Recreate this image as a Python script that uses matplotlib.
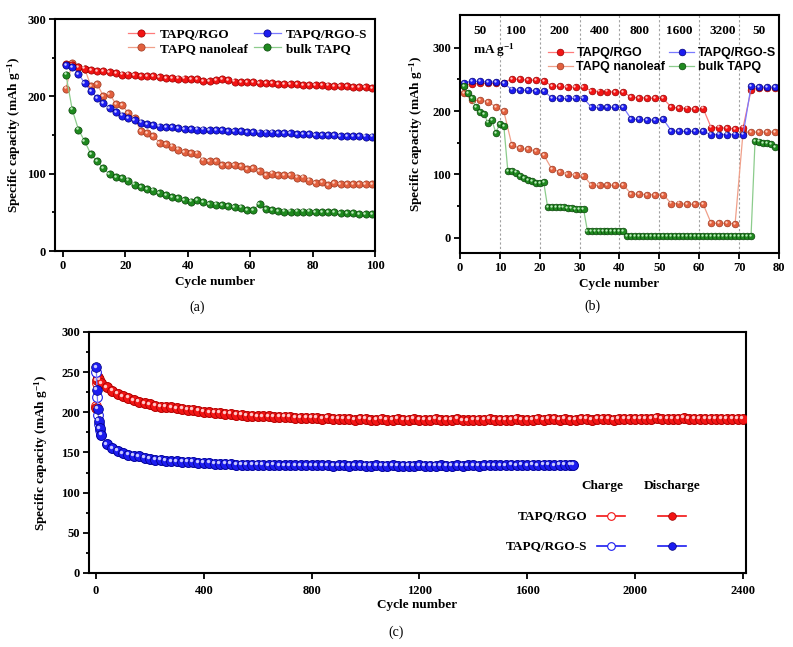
import matplotlib
matplotlib.use("Agg")
import matplotlib.pyplot as plt
from matplotlib.ticker import MultipleLocator, FixedLocator
from matplotlib.transforms import offset_copy

plt.rcParams['font.family'] = 'Liberation Serif'
plt.rcParams['font.weight'] = 'bold'
plt.rcParams['axes.labelweight'] = 'bold'
plt.rcParams['mathtext.default'] = 'regular'

# ---------------- (a) cycling at 50 mA g-1 ----------------
cyc_a = list(range(1, 100, 2))
rgo_a = [242, 240, 238, 236, 234, 233, 233, 231, 230, 228,
         228, 227, 226, 226, 226, 225, 224, 224, 223, 223,
         222, 222, 220, 220, 221, 222, 221, 219, 218, 218,
         218, 217, 217, 217, 216, 216, 216, 216, 215, 215,
         215, 215, 214, 213, 213, 213, 212, 212, 212, 211]
rgos_a = [240, 238, 229, 217, 207, 198, 191, 185, 180, 175,
          172, 169, 166, 164, 163, 161, 160, 160, 159, 158,
          158, 157, 157, 156, 156, 156, 155, 155, 155, 154,
          154, 153, 153, 153, 152, 152, 152, 151, 151, 151,
          150, 150, 150, 150, 149, 149, 149, 149, 148, 148]
leaf_a = [210, 243, 238, 236, 213, 216, 200, 203, 190, 189,
          178, 172, 155, 152, 149, 140, 138, 135, 131, 128,
          127, 126, 117, 116, 116, 111, 111, 111, 110, 106,
          107, 103, 98, 100, 98, 98, 98, 95, 95, 91,
          88, 89, 85, 88, 87, 87, 87, 87, 87, 87]
bulk_a = [228, 183, 157, 142, 125, 116, 107, 99, 96, 94,
          91, 86, 83, 80, 78, 75, 72, 70, 68, 66,
          64, 66, 63, 61, 60, 59, 58, 57, 56, 53,
          53, 61, 54, 53, 52, 51, 51, 51, 51, 51,
          50, 50, 50, 50, 49, 49, 49, 48, 48, 48]

# ---------------- (b) rate test ----------------
cyc_b = list(range(1, 80, 2))
rgo_b = [240, 243, 244, 244, 244, 245,
         251, 250, 249, 249, 248,
         240, 239, 238, 238, 238,
         232, 231, 231, 230, 230,
         222, 221, 221, 220, 220,
         206, 205, 204, 203, 204,
         174, 174, 173, 172, 174,
         233, 237, 237, 237]
rgos_b = [245, 247, 247, 246, 246, 244,
          234, 233, 233, 232, 232,
          221, 220, 220, 220, 220,
          206, 206, 206, 206, 206,
          187, 187, 186, 186, 187,
          169, 168, 168, 168, 168,
          163, 163, 163, 163, 163,
          239, 238, 238, 238]
leaf_b = [229, 217, 217, 215, 207, 200,
          147, 141, 140, 137, 131,
          109, 104, 101, 99, 98,
          83, 83, 83, 83, 83,
          69, 69, 68, 68, 68,
          54, 54, 53, 53, 53,
          23, 23, 23, 22, 167,
          167, 167, 167, 167]
cyc_bulk_b = list(range(1, 80))
bulk_b = ([240, 229, 221, 206, 199, 196, 182, 186, 166, 180, 177,
           106, 105, 103, 98, 94, 91, 89, 87, 86, 88,
           48, 48, 48, 48, 48, 47, 47, 46, 45, 45,
           10, 10, 10, 10, 10, 10, 10, 10, 10, 10]
          + [3] * 32
          + [153, 152, 150, 149, 148, 143])
rate_labels = ['50', '100', '200', '400', '800', '1600', '3200', '50']
rate_pos = [5, 14, 25, 35, 45, 55, 66, 75]
rate_bounds = [10, 20, 30, 40, 50, 60, 70]

# ---------------- (c) long cycling ----------------
cyc_rgo_c = [1, 3, 8, 12] + list(range(20, 2401, 20))
dis_rgo_c = [205, 240, 244, 241,
             236, 231, 227, 223, 220, 218, 215, 213, 211, 210,
             208, 207, 207, 206, 205, 204, 203, 203, 202, 201,
             200, 199, 199, 198, 198, 197, 197, 196, 196, 195,
             195, 195, 194, 194, 194, 194, 193, 193, 193, 193,
             193, 192, 193, 192, 192, 192, 192, 191, 192, 192,
             191, 191, 192, 191, 191, 192, 191, 191, 192, 191,
             191, 191, 192, 191, 191, 191, 192, 190, 190, 191,
             191, 191, 192, 191, 191, 191, 191, 192, 191, 191,
             191, 192, 191, 192, 192, 191, 192, 191, 191, 192,
             192, 191, 192, 192, 192, 191, 192, 192, 192, 192,
             192, 192, 192, 193, 192, 192, 192, 192, 193, 192,
             192, 192, 192, 192, 192, 192, 192, 192, 192, 192]
# charge points sit under the discharge points after the first cycles
chg_rgo_c = [208, 236, 241, 239] + dis_rgo_c[4:]

cyc_rgos_c = [1, 4, 7, 10, 14] + list(range(20, 1761, 20)) + [1770]
dis_rgos_c = [256, 228, 204, 189, 180,
              172, 160, 155, 152, 149, 147, 146, 145, 143, 142,
              141, 141, 140, 139, 139, 138, 138, 138, 137, 137,
              137, 136, 136, 136, 136, 135, 135, 135, 135, 135,
              135, 134, 135, 134, 134, 134, 134, 134, 134, 134,
              134, 134, 134, 133, 134, 134, 133, 134, 134, 133,
              133, 134, 133, 133, 134, 133, 133, 133, 133, 134,
              133, 133, 133, 134, 133, 133, 134, 133, 134, 134,
              133, 134, 134, 134, 134, 134, 135, 134, 135, 134,
              135, 134, 135, 135, 134, 135, 135, 135,
              135]
chg_rgos_c = [250, 219, 197, 186, 178] + dis_rgos_c[5:]

RED = ('#f21414', '#9a0000', '#ff7a7a', '#ffc8c8')
BLUE = ('#1c1cf0', '#00007a', '#7a7aff', '#c8c8ff')
ORANGE = ('#e2603e', '#9c3a22', '#f0a08a', '#ffd0c0')
GREEN = ('#1f8a1f', '#0a440a', '#8ccc8c', '#c0ecc0')


def balls(ax, x, y, col, ms, label=None, z=2):
    face, edge, line, hl = col
    main, = ax.plot(x, y, '-o', color=line, lw=0.9, ms=ms, mfc=face, mec=edge,
                    mew=0.5, label=label, zorder=z)
    tr = offset_copy(ax.transData, fig=ax.figure, x=-ms * 0.17, y=ms * 0.17, units='points')
    ax.plot(x, y, 'o', ms=ms * 0.35, mfc=hl, mec='none', transform=tr, zorder=z)
    return main


def style(ax):
    for s in ax.spines.values():
        s.set_linewidth(1.5)
    ax.tick_params(which='both', direction='out', width=1.3, labelsize=9, top=False, right=False)
    ax.tick_params(which='major', length=4, pad=2.5)
    ax.tick_params(which='minor', length=2.5)


fig = plt.figure(figsize=(7.93, 6.47), dpi=100)

# (a)
ax1 = fig.add_axes([0.0694, 0.612, 0.4035, 0.3586])
h_leaf = balls(ax1, cyc_a, leaf_a, ORANGE, 5.2, 'TAPQ nanoleaf')
h_rgo = balls(ax1, cyc_a, rgo_a, RED, 5.2, 'TAPQ/RGO')
h_rgos = balls(ax1, cyc_a, rgos_a, BLUE, 5.2, 'TAPQ/RGO-S')
h_bulk = balls(ax1, cyc_a, bulk_a, GREEN, 5.2, 'bulk TAPQ')
ax1.set_xlim(-2.5, 100)
ax1.set_ylim(0, 300)
ax1.xaxis.set_major_locator(MultipleLocator(20))
ax1.yaxis.set_major_locator(MultipleLocator(100))
ax1.yaxis.set_minor_locator(MultipleLocator(50))
style(ax1)
ax1.set_xlabel('Cycle number', fontsize=9.5, labelpad=3)
ax1.set_ylabel('Specific capacity (mAh g$^{-1}$)', fontsize=9.5, labelpad=3)
ax1.legend([h_rgo, h_leaf, h_rgos, h_bulk],
           ['TAPQ/RGO', 'TAPQ nanoleaf', 'TAPQ/RGO-S', 'bulk TAPQ'],
           ncol=2, loc='upper right', bbox_to_anchor=(1.005, 1.0), frameon=False, fontsize=9.5,
           handlelength=2.0, handletextpad=0.4, columnspacing=0.5,
           labelspacing=0.15, borderaxespad=0.3)

# (b)
ax2 = fig.add_axes([0.580, 0.609, 0.4023, 0.368])
for b in rate_bounds:
    ax2.axvline(b, color='#a0a0a0', lw=0.8, ls=(0, (2, 2)), zorder=1)
g_leaf = balls(ax2, cyc_b, leaf_b, ORANGE, 4.8, 'TAPQ nanoleaf')
g_rgo = balls(ax2, cyc_b, rgo_b, RED, 4.8, 'TAPQ/RGO')
g_rgos = balls(ax2, cyc_b, rgos_b, BLUE, 4.8, 'TAPQ/RGO-S')
g_bulk = balls(ax2, cyc_bulk_b, bulk_b, GREEN, 4.8, 'bulk TAPQ')
ax2.set_xlim(0, 80)
ax2.set_ylim(-24, 352)
ax2.xaxis.set_major_locator(MultipleLocator(10))
ax2.yaxis.set_major_locator(FixedLocator([0, 100, 200, 300]))
ax2.yaxis.set_minor_locator(FixedLocator([50, 150, 250]))
style(ax2)
ax2.set_xlabel('Cycle number', fontsize=9.5, labelpad=3)
ax2.set_ylabel('Specific capacity (mAh g$^{-1}$)', fontsize=9.5, labelpad=5)
for lab, p in zip(rate_labels, rate_pos):
    ax2.text(p, 326, lab, ha='center', va='center', fontsize=9.5)
ax2.text(3.2, 296, 'mA g$^{-1}$', ha='left', va='center', fontsize=9.5)
ax2.legend([g_rgo, g_leaf, g_rgos, g_bulk],
           ['TAPQ/RGO', 'TAPQ nanoleaf', 'TAPQ/RGO-S', 'bulk TAPQ'],
           ncol=2, loc='upper left', bbox_to_anchor=(0.275, 0.865), frameon=False,
           prop={'family': 'Liberation Sans', 'weight': 'bold', 'size': 9},
           handlelength=2.0, handletextpad=0.3, columnspacing=0.3,
           labelspacing=0.15, borderaxespad=0.0, borderpad=0.0)

# (c)
ax3 = fig.add_axes([0.1122, 0.1144, 0.8285, 0.3725])
ax3.plot(cyc_rgo_c, chg_rgo_c, '-o', color=RED[2], lw=0.8, ms=7, mfc='white', mec=RED[0], mew=0.8, zorder=2)
balls(ax3, cyc_rgo_c, dis_rgo_c, RED, 7, z=3)
ax3.plot(cyc_rgos_c, chg_rgos_c, '-o', color=BLUE[2], lw=0.8, ms=7, mfc='white', mec=BLUE[0], mew=0.8, zorder=4)
balls(ax3, cyc_rgos_c, dis_rgos_c, BLUE, 7, z=5)
ax3.set_xlim(-26, 2411)
ax3.set_ylim(0, 300)
ax3.xaxis.set_major_locator(MultipleLocator(400))
ax3.yaxis.set_major_locator(MultipleLocator(50))
ax3.yaxis.set_minor_locator(MultipleLocator(25))
style(ax3)
ax3.tick_params(axis='x', which='major', pad=5)
ax3.set_xlabel('Cycle number', fontsize=9.5, labelpad=1)
ax3.set_ylabel('Specific capacity (mAh g$^{-1}$)', fontsize=9.5, labelpad=8)

# table-style legend of (c)
ax3.text(0.782, 0.361, 'Charge', transform=ax3.transAxes, ha='center', va='center', fontsize=9.5)
ax3.text(0.887, 0.361, 'Discharge', transform=ax3.transAxes, ha='center', va='center', fontsize=9.5)
for name, col, yy in [('TAPQ/RGO', RED, 0.237), ('TAPQ/RGO-S', BLUE, 0.112)]:
    ax3.text(0.758, yy, name, transform=ax3.transAxes, ha='right', va='center', fontsize=9.5)
    ax3.plot([0.774, 0.816], [yy, yy], '-', color=col[0], lw=1.2, transform=ax3.transAxes)
    ax3.plot([0.795], [yy], 'o', ms=5.5, mfc='white', mec=col[0], mew=0.8, transform=ax3.transAxes)
    ax3.plot([0.866, 0.909], [yy, yy], '-', color=col[0], lw=1.2, transform=ax3.transAxes)
    ax3.plot([0.8875], [yy], 'o', ms=5.5, mfc=col[0], mec=col[1], mew=0.5, transform=ax3.transAxes)

fig.text(197 / 793, 1 - 307 / 647, '(a)', ha='center', va='center', fontsize=10, fontweight='normal')
fig.text(592 / 793, 1 - 306 / 647, '(b)', ha='center', va='center', fontsize=10, fontweight='normal')
fig.text(396 / 793, 1 - 632 / 647, '(c)', ha='center', va='center', fontsize=10, fontweight='normal')

fig.savefig('out.png', dpi=100)
